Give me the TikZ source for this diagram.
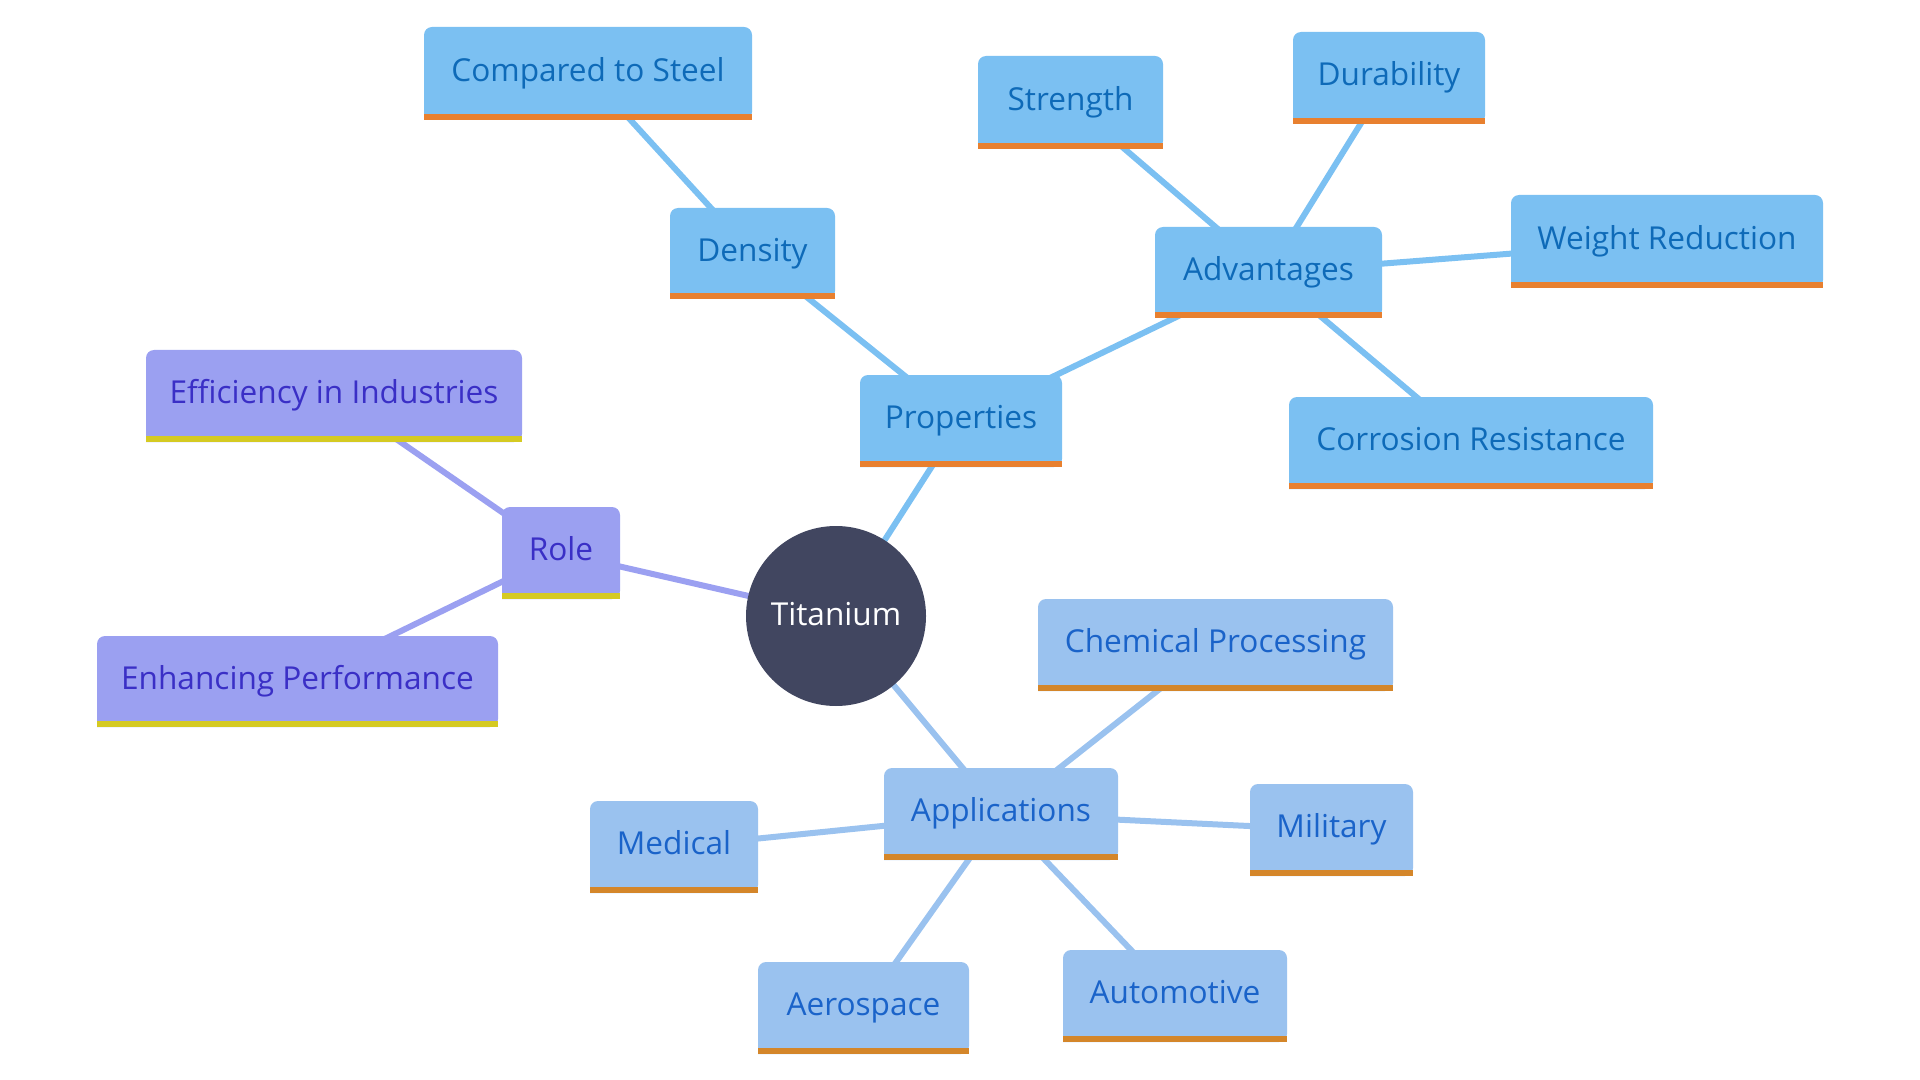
\documentclass[tikz,border=0pt]{standalone}
\usepackage{fontspec}
\setmainfont{Open Sans}
\pgfdeclarelayer{edges}
\pgfdeclarelayer{boxes}
\pgfsetlayers{edges,boxes,main}
\definecolor{propfill}{HTML}{7BC0F2}
\definecolor{proptext}{HTML}{0E6AB8}
\definecolor{propbar}{HTML}{E8802F}
\definecolor{appfill}{HTML}{9AC2EF}
\definecolor{apptext}{HTML}{1A63C9}
\definecolor{appbar}{HTML}{D4862A}
\definecolor{rolefill}{HTML}{9BA0F1}
\definecolor{roletext}{HTML}{3A2FC6}
\definecolor{rolebar}{HTML}{D5CA22}
\definecolor{titan}{HTML}{414660}
\tikzset{
  boxnode/.style={inner sep=0pt, outer sep=0pt, font=\fontsize{15.8}{18}\selectfont},
  link/.style={line width=3pt},
}
\newcommand\mmbox[7]{%
  \node[boxnode, minimum width=#4*0.5pt, minimum height=#5*0.5pt] (#1) at (#2,#3) {};
  \node[boxnode, text=#7text, anchor=base] (#1-t) at ([yshift=-3.9pt]#1.center) {#6};
  \begin{pgfonlayer}{boxes}
    \fill[#7fill] (#1.south west) [rounded corners=4pt] |- (#1.north) -| (#1.south east) [sharp corners] -- cycle;
    \fill[#7bar] (#1.south west) rectangle ([yshift=3pt]#1.south east);
  \end{pgfonlayer}
}
\begin{document}
\begin{tikzpicture}[x=0.5pt, y=-0.5pt]
\useasboundingbox (0,0) rectangle (1920,1080);
\node[circle, fill=titan, minimum size=90pt, inner sep=0pt] (ti) at (836,616) {};
\node[boxnode, text=white, anchor=base] (ti-t) at ([yshift=-4.6pt]ti.center) {Titanium};
\mmbox{cmp}{588}{73.5}{328}{93}{Compared to Steel}{prop}
\mmbox{den}{752.5}{253.5}{165}{91}{Density}{prop}
\mmbox{str}{1070.5}{102.5}{185}{93}{Strength}{prop}
\mmbox{dur}{1389}{78}{192}{92}{Durability}{prop}
\mmbox{adv}{1268.5}{272.5}{227}{91}{Advantages}{prop}
\mmbox{wei}{1667}{241.5}{312}{93}{Weight Reduction}{prop}
\mmbox{pro}{961}{421}{202}{92}{Properties}{prop}
\mmbox{cor}{1471}{443}{364}{92}{Corrosion Resistance}{prop}
\mmbox{eff}{334}{396}{376}{92}{Efficiency in Industries}{role}
\mmbox{rol}{561}{553}{118}{92}{Role}{role}
\mmbox{enh}{297.5}{681.5}{401}{91}{Enhancing Performance}{role}
\mmbox{che}{1215.5}{645}{355}{92}{Chemical Processing}{app}
\mmbox{apl}{1001}{814}{234}{92}{Applications}{app}
\mmbox{mil}{1331.5}{830}{163}{92}{Military}{app}
\mmbox{med}{674}{847}{168}{92}{Medical}{app}
\mmbox{aer}{863.5}{1008}{211}{92}{Aerospace}{app}
\mmbox{aut}{1175}{996}{224}{92}{Automotive}{app}
\begin{pgfonlayer}{edges}
\draw[link, propfill] (ti.center) -- (pro.center);
\draw[link, propfill] (pro.center) -- (den.center);
\draw[link, propfill] (den.center) -- (cmp.center);
\draw[link, propfill] (pro.center) -- (adv.center);
\draw[link, propfill] (adv.center) -- (str.center);
\draw[link, propfill] (adv.center) -- (dur.center);
\draw[link, propfill] (adv.center) -- (wei.center);
\draw[link, propfill] (adv.center) -- (cor.center);
\draw[link, rolefill] (ti.center) -- (rol.center);
\draw[link, rolefill] (rol.center) -- (eff.center);
\draw[link, rolefill] (rol.center) -- (enh.center);
\draw[link, appfill] (ti.center) -- (apl.center);
\draw[link, appfill] (apl.center) -- (che.center);
\draw[link, appfill] (apl.center) -- (mil.center);
\draw[link, appfill] (apl.center) -- (med.center);
\draw[link, appfill] (apl.center) -- (aer.center);
\draw[link, appfill] (apl.center) -- (aut.center);
\end{pgfonlayer}
\end{tikzpicture}
\end{document}
